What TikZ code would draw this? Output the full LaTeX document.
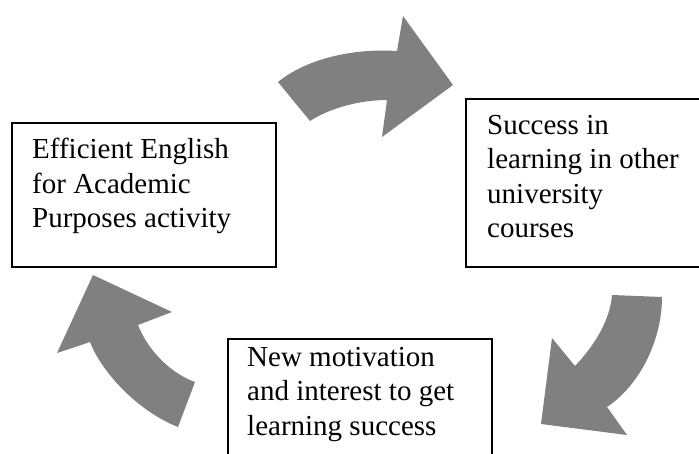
\documentclass[tikz,border=0pt]{standalone}
\usepackage{fontspec}
\setmainfont{Liberation Serif}
\definecolor{arrowgray}{HTML}{808080}
\begin{document}
\begin{tikzpicture}[x=1pt,y=-1pt,
  box/.style={draw=black, line width=1.8pt, rectangle, inner sep=0pt, anchor=north west},
  txt/.style={anchor=north west, align=left, inner sep=0pt, font=\fontsize{29}{34.5}\selectfont},
  bigarrow/.style={fill=arrowgray, draw=none}]
\useasboundingbox (0,0) rectangle (699,453);
% boxes
\node[box, minimum width=264pt, minimum height=144pt] (b1) at (11,122) {};
\node[box, minimum width=262pt, minimum height=168pt] (b2) at (465,98) {};
\node[box, minimum width=264pt, minimum height=140pt] (b3) at (227,338) {};
% texts
\node[txt] (t1) at (32,138) {Efficient English\\for Academic\\Purposes activity};
\node[txt] (t2) at (487,115) {Success in\\learning in other\\university\\courses};
\node[txt] (t3) at (247,347) {New motivation\\and interest to get\\learning success};
% top arrow
\fill[bigarrow] (278,82) -- (310,121)
  .. controls (330,108) and (360,100) .. (387,100)
  -- (382,137) -- (453,85) -- (403,16) -- (397,51)
  .. controls (350,48) and (305,60) .. (278,82) -- cycle;
% right arrow
\fill[bigarrow] (612,295) -- (662,297)
  .. controls (662,340) and (640,385) .. (607,407)
  -- (627,435) -- (541,424) -- (552,338) -- (575,366)
  .. controls (595,345) and (610,320) .. (612,295) -- cycle;
% left arrow
\fill[bigarrow] (195,382) -- (178,427)
  .. controls (140,412) and (103,375) .. (90,342)
  -- (57,353) -- (93,275) -- (172,312) -- (138,325)
  .. controls (150,355) and (175,375) .. (195,382) -- cycle;
\end{tikzpicture}
\end{document}
